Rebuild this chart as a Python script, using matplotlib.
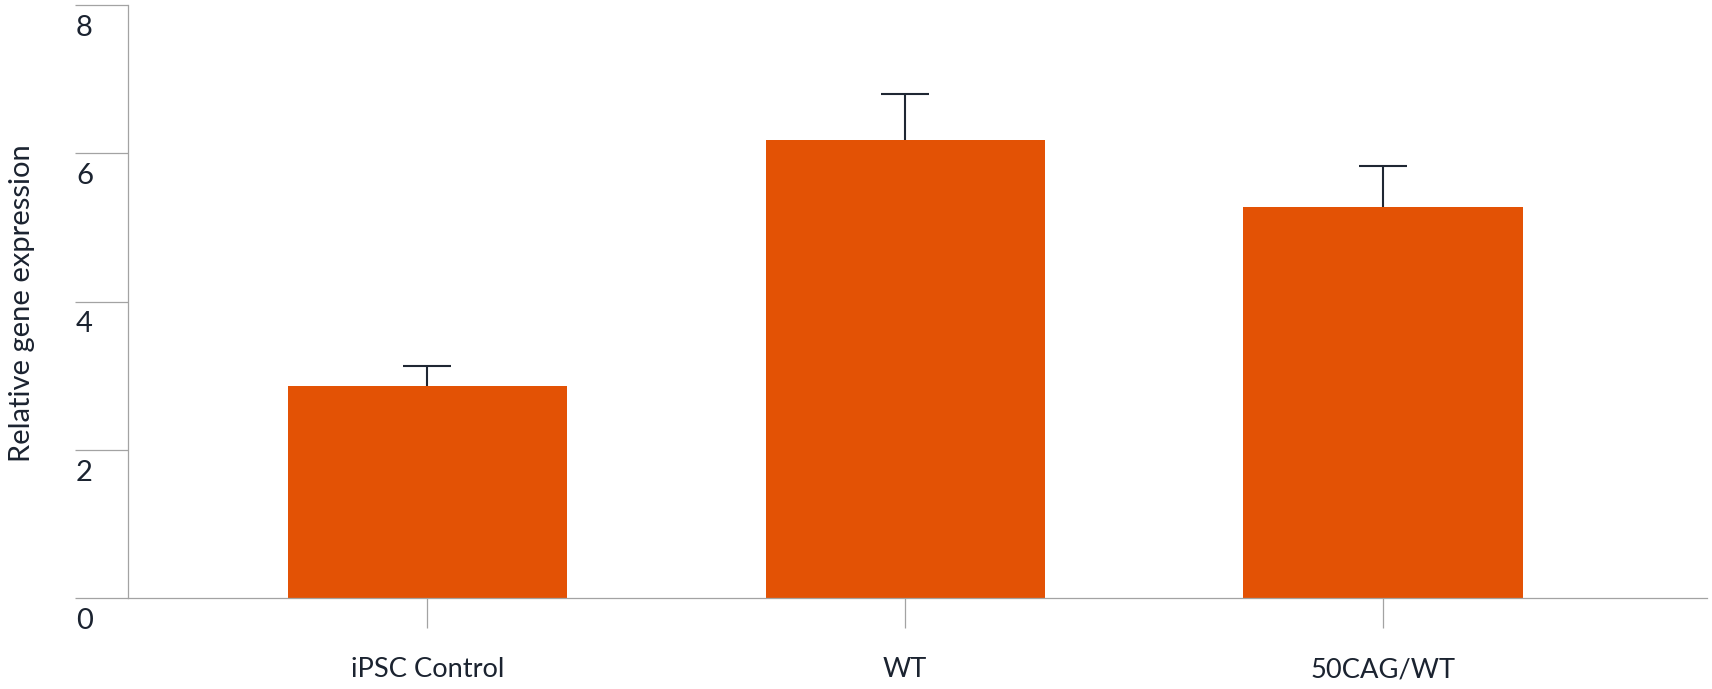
import numpy as np
import matplotlib
matplotlib.use('Agg')
import matplotlib.pyplot as plt
import matplotlib.transforms as mtransforms

# data
categories = ['iPSC Control', 'WT', '50CAG/WT']
expression = [2.86, 6.18, 5.27]
err_upper = [0.27, 0.62, 0.56]
y_ticks = [0, 2, 4, 6, 8]

bar_color = '#E35205'
text_color = '#1B2330'
axis_color = '#A3A3A3'

plt.rcParams['font.family'] = ['Lato', 'DejaVu Sans']

fig = plt.figure(figsize=(17.12, 6.89), dpi=100)
ax = fig.add_axes([0.0748, 0.1321, 0.9223, 0.8606])

x = np.arange(len(categories))
ax.bar(x, expression, width=0.584, color=bar_color, zorder=2)
eb = ax.errorbar(x, expression, yerr=[np.zeros(len(err_upper)), err_upper],
                 fmt='none', ecolor='#1F2733', elinewidth=1.5, capsize=17.3,
                 capthick=1.5, zorder=3)
# only the upper cap is shown
eb[1][0].set_visible(False)

ax.set_xlim(-0.626, 2.678)
ax.set_ylim(0, 8)

for side in ['top', 'right']:
    ax.spines[side].set_visible(False)
for side in ['left', 'bottom']:
    ax.spines[side].set_color(axis_color)
    ax.spines[side].set_linewidth(0.9)

# y ticks: long lines to the left, labels drawn just below them
ax.set_yticks(y_ticks)
ax.tick_params(axis='y', length=38, width=0.9, color=axis_color, labelleft=False)
trans = mtransforms.offset_copy(ax.get_yaxis_transform(), fig=fig, x=0, y=-22.3, units='points')
for t in y_ticks:
    ax.text(-0.0329, t, str(t), transform=trans, ha='left', va='baseline',
            fontsize=21, color=text_color)

# x ticks
ax.set_xticks(x)
ax.set_xticklabels(categories, fontsize=19.6, color=text_color)
ax.tick_params(axis='x', length=21.6, width=0.9, color=axis_color, pad=35.3)
for lab in ax.get_xticklabels():
    lab.set_va('baseline')

fig.text(22 / 1712, 1 - 303 / 689, 'Relative gene expression', rotation=90,
         ha='center', va='center', fontsize=21, color=text_color)

fig.savefig('out.png', dpi=100)
